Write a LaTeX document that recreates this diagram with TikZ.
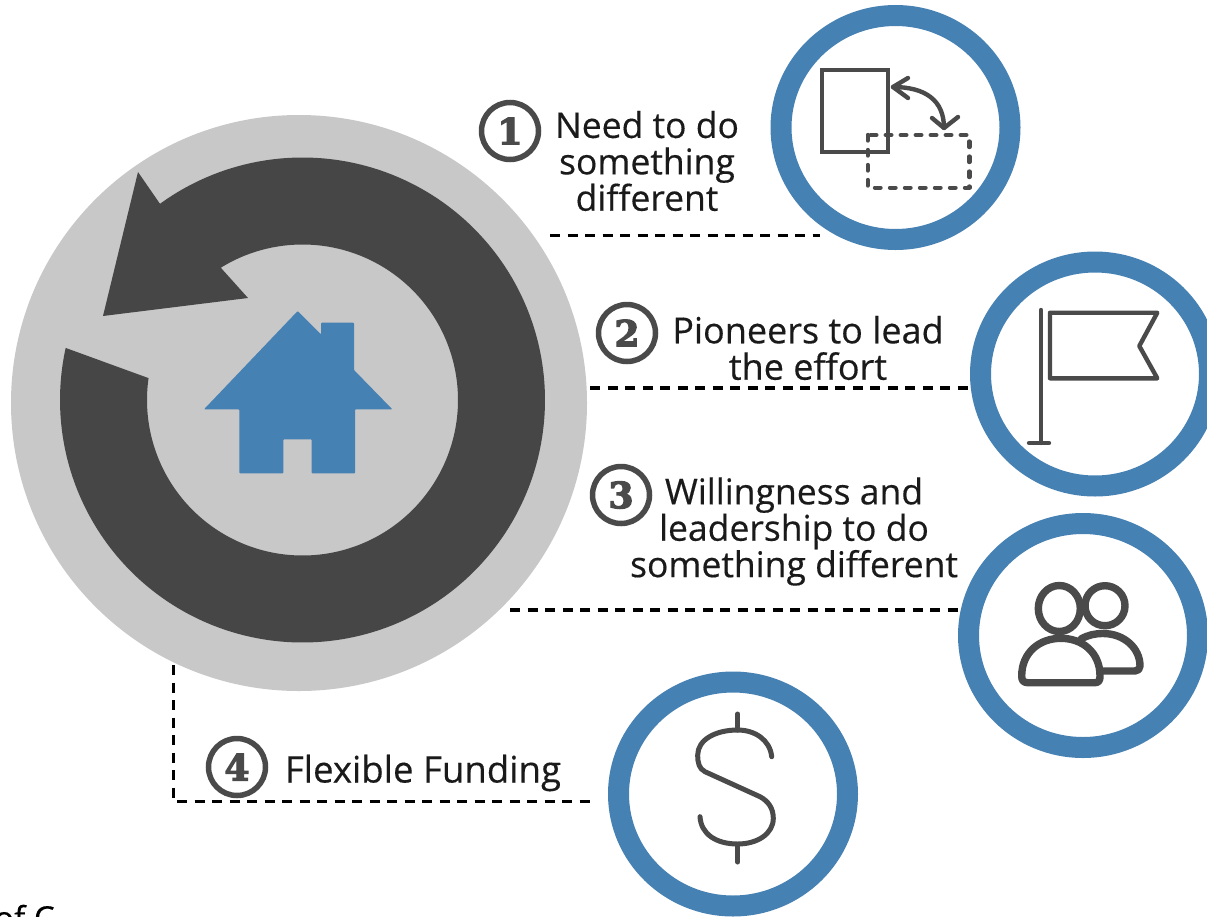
\documentclass[tikz,border=0pt]{standalone}
\usepackage{fontspec}
\setmainfont[FakeBold=0.35]{Open Sans}
\newfontfamily\digitfont[FakeBold=3.5]{DejaVu Serif Bold}
\usetikzlibrary{shapes.geometric}
\definecolor{ringblue}{HTML}{4681B4}
\definecolor{discgrey}{HTML}{C8C8C8}
\definecolor{darkarc}{HTML}{464646}
\definecolor{icongrey}{HTML}{4A4A4A}
\definecolor{inkblack}{HTML}{1A1A1A}
\tikzset{
  ringnode/.style={draw=ringblue,fill=white,ellipse,line width=21pt,inner sep=0pt,outer sep=0pt,minimum width=229pt,minimum height=224pt},
  badge/.style={draw=icongrey,circle,line width=5.5pt,inner sep=0pt,outer sep=0pt,minimum size=57pt,text=icongrey,font=\digitfont\fontsize{36}{36}\selectfont},
  label/.style={align=center,text=inkblack,inner sep=0pt,font=\fontsize{35.5}{36.4}\selectfont},
  dashline/.style={draw=black,line width=3.3pt,dash pattern=on 10pt off 7.5pt},
  iconline/.style={draw=icongrey,line width=4.4pt,line cap=round,line join=round},
  iconthick/.style={draw=icongrey,line width=7.4pt,line cap=round,line join=round},
}
\begin{document}
\begin{tikzpicture}[x=1pt,y=-1pt]
\clip (0,0) rectangle (1207,916);
\fill[white] (0,0) rectangle (1207,916);
% big disc and arrow
\fill[discgrey] (299,403) circle[radius=288pt];
\fill[darkarc] plot[domain=192.4:-126,samples=160,smooth] ({302.5+242.5*cos(\x)},{400+242.5*sin(\x)})
  -- (138,172) -- (103,316) -- (248,298)
  -- plot[domain=-121.7:188.1,samples=160,smooth] ({302.5+155.5*cos(\x)},{400+155.5*sin(\x)}) -- cycle;
% house
\fill[ringblue,rounded corners=0.8pt] (297.7,311) -- (321,334.3) -- (321,322.7) -- (354,322.7) -- (354,370) -- (392.3,409.3) -- (355,409.3) -- (355,473.3) -- (311.7,473.3) -- (311.7,439.3) -- (283.3,439.3) -- (283.3,473.3) -- (239.3,473.3) -- (239.3,409.3) -- (204,409.3) -- cycle;
% connector end points
\coordinate (a1) at (550,235.5); \coordinate (b1) at (820,235.5);
\coordinate (a2) at (590,388); \coordinate (b2) at (970,388);
\coordinate (a3) at (510,610); \coordinate (b3) at (968,610);
\coordinate (a4) at (173.5,665); \coordinate (k4) at (173.5,801.5); \coordinate (b4) at (592,801.5);
\draw[dashline] (a1) -- (b1);
\draw[dashline] (a2) -- (b2);
\draw[dashline] (a3) -- (b3);
\draw[dashline] (a4) -- (k4) -- (b4);
% rings
\node[ringnode] (ring1) at (895.5,127.5) {};
\node[ringnode] (ring2) at (1095,374) {};
\node[ringnode] (ring3) at (1083,635.5) {};
\node[ringnode] (ring4) at (733,794) {};
% icon 1
\draw[iconline,line cap=butt,line join=miter] (821.7,70) rectangle (888,151.7);
\draw[iconline,line cap=round,dash pattern=on 5.5pt off 9.5pt] (867.7,135) rectangle (969.3,187.7);
\draw[iconline] (893,87) .. controls (925,87) and (944,100) .. (944,128);
\draw[iconline] (908,78) -- (893,87) -- (908,98);
\draw[iconline] (932,118) -- (944,128) -- (958,117);
% icon 2
\draw[iconline] (1041,310) -- (1041,443);
\draw[iconline] (1029,443) -- (1049,443);
\draw[iconline] (1050,312.7) -- (1157.3,312.7) -- (1139.3,346) -- (1157.3,378.3) -- (1050,378.3) -- cycle;
% icon 3
\draw[iconthick] (1059.3,608.5) ellipse[x radius=21pt,y radius=23pt];
\draw[iconthick] (1105,605.7) ellipse[x radius=20pt,y radius=20pt];
\draw[iconthick] (1028,682.7) -- (1095,682.7) .. controls (1099,682.7) and (1100,680) .. (1100,676)
  .. controls (1100,652) and (1082,638.3) .. (1060.8,638.3)
  .. controls (1040,638.3) and (1021.7,652) .. (1021.7,676)
  .. controls (1021.7,680) and (1023,682.7) .. (1028,682.7) -- cycle;
\draw[iconthick] (1081,639) .. controls (1088,635) and (1095,633.5) .. (1103,633.5)
  .. controls (1124,633.5) and (1140,648) .. (1140,666)
  .. controls (1140,669) and (1138,671) .. (1135,671) -- (1101,671);
% icon 4
\draw[iconline,line width=5pt] (737.7,714) -- (737.7,730);
\draw[iconline,line width=5pt] (737.7,845) -- (737.7,862);
\draw[iconline,line width=5pt] (771.7,756.7) .. controls (770,740) and (755,730) .. (737.7,730)
  .. controls (715,730) and (697.7,740) .. (697.7,755)
  .. controls (697.7,763) and (699,768.5) .. (705,771.7)
  -- (760,796.7)
  .. controls (768,801) and (773.3,808) .. (773.3,818.3)
  .. controls (773.3,834) and (757,844) .. (737.7,844)
  .. controls (716,844) and (701,834) .. (700,816.7);
% badges
\node[badge] (n1) at (510,131) {1};
\node[badge] (n2) at (627,333) {2};
\node[badge] (n3) at (621,495) {3};
\node[badge] (n4) at (237,767) {4};
% labels
\node[label] (t1) at (647,161) {Need to do\\something\\different};
\node[label,font=\fontsize{36}{36.4}\selectfont] (t2) at (808,348) {Pioneers to lead\\the effort};
\node[label] (t3) at (794,531.5) {Willingness and\\leadership to do\\something different};
\node[label,font=\fontsize{36.6}{36.6}\selectfont] (t4) at (423,773) {Flexible Funding};
\node[anchor=base west,inner sep=0pt,text=black,font=\fontsize{33}{36}\selectfont] (t5) at (-6,930) {of C};
\end{tikzpicture}
\end{document}
